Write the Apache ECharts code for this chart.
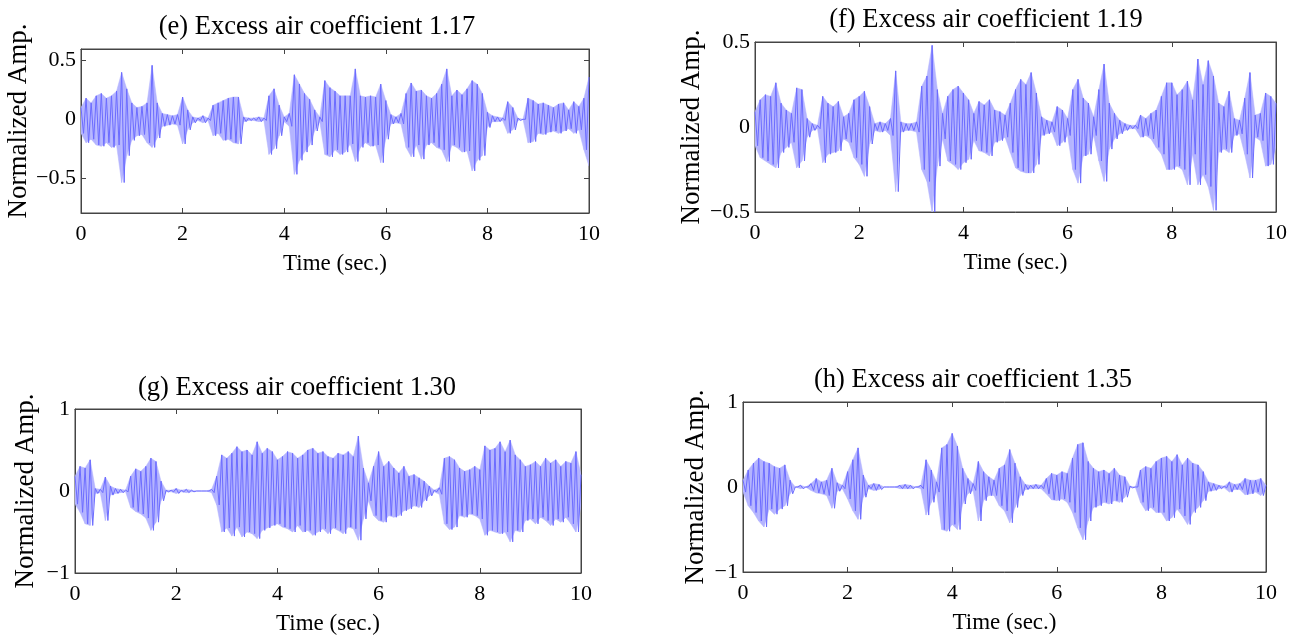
<!DOCTYPE html>
<html>
<head>
<meta charset="utf-8">
<title>Excess air coefficient waveforms</title>
<script src="https://cdn.jsdelivr.net/npm/echarts@6/dist/echarts.min.js"></script>
<style>
  html, body { margin: 0; padding: 0; background: #fff; }
  #chart { width: 1304px; height: 641px; }
</style>
</head>
<body>
<div id="chart"></div>
<script>
// sampled envelope of each recording: upper/lower peak every 0.1 s, 0..10 s
var sampleStep = 0.1;

var upperE = [0.10,0.18,0.14,0.20,0.22,0.18,0.20,0.24,0.40,0.26, 0.14,0.10,0.11,0.14,0.46,0.14,0.05,0.04,0.03,0.04,
  0.19,0.08,0.02,0.01,0.03,0.01,0.12,0.14,0.16,0.18, 0.19,0.19,0.02,0.01,0.01,0.02,0.01,0.20,0.26,0.12,
  0.02,0.05,0.38,0.30,0.22,0.17,0.08,0.02,0.33,0.27, 0.24,0.20,0.20,0.20,0.43,0.20,0.19,0.20,0.19,0.30,
  0.16,0.04,0.02,0.05,0.22,0.31,0.24,0.25,0.20,0.18, 0.22,0.30,0.43,0.20,0.25,0.21,0.26,0.33,0.30,0.22,
  0.06,0.03,0.02,0.01,0.15,0.10,0.01,0.00,0.18,0.16, 0.13,0.14,0.12,0.10,0.13,0.14,0.08,0.15,0.11,0.18,
  0.36];
var lowerE = [-0.12,-0.20,-0.17,-0.22,-0.23,-0.20,-0.24,-0.22,-0.54,-0.31, -0.18,-0.14,-0.13,-0.20,-0.24,-0.16,-0.06,-0.05,-0.04,-0.05,
  -0.21,-0.09,-0.03,-0.01,-0.03,-0.01,-0.14,-0.12,-0.18,-0.17, -0.20,-0.21,-0.02,-0.01,-0.01,-0.02,-0.01,-0.30,-0.25,-0.14,
  -0.02,-0.06,-0.47,-0.35,-0.28,-0.22,-0.10,-0.02,-0.30,-0.32, -0.26,-0.30,-0.28,-0.21,-0.36,-0.24,-0.20,-0.23,-0.22,-0.37,
  -0.17,-0.04,-0.03,-0.04,-0.24,-0.32,-0.22,-0.34,-0.22,-0.20, -0.24,-0.26,-0.36,-0.22,-0.24,-0.28,-0.27,-0.44,-0.35,-0.31,
  -0.07,-0.02,-0.02,-0.01,-0.12,-0.09,-0.01,0.00,-0.20,-0.19, -0.12,-0.13,-0.11,-0.10,-0.12,-0.10,-0.08,-0.12,-0.09,-0.26,
  -0.40];

var upperF = [0.09,0.16,0.19,0.18,0.26,0.14,0.10,0.08,0.23,0.22, 0.05,0.02,0.01,0.18,0.14,0.12,0.15,0.06,0.08,0.16,
  0.18,0.21,0.12,0.02,0.03,0.02,0.05,0.33,0.03,0.02, 0.02,0.03,0.24,0.30,0.48,0.22,0.08,0.18,0.22,0.24,
  0.20,0.16,0.08,0.15,0.13,0.16,0.10,0.09,0.07,0.14, 0.22,0.28,0.25,0.32,0.20,0.06,0.04,0.03,0.12,0.10,
  0.05,0.22,0.28,0.17,0.14,0.06,0.22,0.37,0.14,0.08, 0.04,0.02,0.01,0.01,0.07,0.05,0.08,0.10,0.18,0.26,
  0.26,0.19,0.22,0.27,0.16,0.40,0.25,0.39,0.30,0.14, 0.12,0.21,0.05,0.04,0.17,0.32,0.07,0.08,0.20,0.18,
  0.14];
var lowerF = [-0.11,-0.18,-0.20,-0.22,-0.24,-0.15,-0.12,-0.09,-0.24,-0.20, -0.06,-0.02,-0.01,-0.21,-0.16,-0.15,-0.14,-0.07,-0.09,-0.18,
  -0.22,-0.29,-0.10,-0.02,-0.03,-0.02,-0.05,-0.38,-0.03,-0.02, -0.02,-0.03,-0.25,-0.32,-0.50,-0.23,-0.07,-0.20,-0.22,-0.25,
  -0.21,-0.19,-0.08,-0.14,-0.15,-0.17,-0.09,-0.08,-0.06,-0.15, -0.24,-0.26,-0.27,-0.27,-0.22,-0.05,-0.04,-0.03,-0.11,-0.09,
  -0.05,-0.25,-0.33,-0.17,-0.16,-0.05,-0.20,-0.32,-0.13,-0.07, -0.04,-0.02,-0.01,-0.01,-0.06,-0.05,-0.07,-0.12,-0.16,-0.25,
  -0.25,-0.23,-0.25,-0.34,-0.16,-0.34,-0.28,-0.35,-0.49,-0.15, -0.13,-0.15,-0.05,-0.04,-0.16,-0.30,-0.06,-0.08,-0.23,-0.22,
  -0.12];

var upperG = [0.18,0.30,0.28,0.38,0.03,0.02,0.17,0.06,0.03,0.02, 0.01,0.18,0.27,0.24,0.30,0.40,0.36,0.12,0.01,0.01,
  0.03,0.01,0.02,0.01,0.00,0.00,0.00,0.02,0.18,0.44, 0.40,0.46,0.54,0.48,0.50,0.44,0.60,0.46,0.52,0.48,
  0.38,0.42,0.48,0.46,0.40,0.44,0.50,0.52,0.46,0.48, 0.42,0.40,0.46,0.44,0.48,0.42,0.67,0.28,0.10,0.30,
  0.48,0.30,0.36,0.28,0.22,0.30,0.18,0.20,0.16,0.12, 0.06,0.01,0.04,0.40,0.42,0.38,0.28,0.24,0.26,0.30,
  0.26,0.55,0.50,0.52,0.60,0.48,0.62,0.44,0.38,0.30, 0.32,0.36,0.30,0.40,0.34,0.38,0.30,0.36,0.34,0.48,
  0.20];
var lowerG = [-0.16,-0.26,-0.40,-0.42,-0.03,-0.02,-0.36,-0.05,-0.03,-0.02, -0.01,-0.20,-0.25,-0.28,-0.33,-0.48,-0.38,-0.12,-0.01,-0.01,
  -0.03,-0.01,-0.02,-0.01,0.00,0.00,0.00,-0.02,-0.17,-0.50, -0.45,-0.55,-0.44,-0.56,-0.50,-0.52,-0.58,-0.48,-0.45,-0.42,
  -0.40,-0.44,-0.46,-0.50,-0.42,-0.50,-0.48,-0.54,-0.50,-0.46, -0.52,-0.45,-0.48,-0.52,-0.44,-0.46,-0.60,-0.34,-0.12,-0.30,
  -0.36,-0.38,-0.30,-0.32,-0.30,-0.24,-0.22,-0.18,-0.20,-0.12, -0.06,-0.01,-0.04,-0.40,-0.47,-0.44,-0.30,-0.32,-0.28,-0.30,
  -0.34,-0.54,-0.48,-0.50,-0.52,-0.50,-0.62,-0.48,-0.50,-0.36, -0.34,-0.40,-0.32,-0.36,-0.42,-0.34,-0.38,-0.32,-0.40,-0.50,
  -0.18];

var upperH = [0.08,0.20,0.28,0.34,0.30,0.28,0.24,0.22,0.26,0.08, 0.00,0.02,0.00,0.04,0.10,0.06,0.08,0.22,0.05,0.02,
  0.18,0.32,0.46,0.14,0.02,0.04,0.03,0.00,0.00,0.00, 0.02,0.03,0.02,0.00,0.02,0.32,0.20,0.06,0.46,0.50,
  0.63,0.48,0.22,0.10,0.04,0.30,0.18,0.12,0.08,0.22, 0.26,0.44,0.28,0.12,0.03,0.02,0.03,0.02,0.10,0.16,
  0.14,0.18,0.16,0.34,0.50,0.52,0.30,0.22,0.18,0.20, 0.16,0.22,0.14,0.12,0.01,0.00,0.20,0.24,0.22,0.30,
  0.34,0.36,0.30,0.38,0.26,0.34,0.28,0.26,0.18,0.06, 0.04,0.02,0.01,0.06,0.03,0.04,0.10,0.08,0.08,0.10,
  0.02];
var lowerH = [-0.06,-0.22,-0.30,-0.40,-0.47,-0.26,-0.32,-0.26,-0.22,-0.08, 0.00,-0.02,0.00,-0.04,-0.07,-0.08,-0.10,-0.25,-0.05,-0.02,
  -0.14,-0.28,-0.38,-0.12,-0.02,-0.04,-0.03,0.00,0.00,0.00, -0.02,-0.02,-0.02,0.00,-0.02,-0.33,-0.18,-0.06,-0.50,-0.52,
  -0.44,-0.50,-0.20,-0.08,-0.04,-0.40,-0.16,-0.10,-0.10,-0.22, -0.28,-0.42,-0.24,-0.10,-0.03,-0.02,-0.02,-0.02,-0.08,-0.15,
  -0.16,-0.14,-0.18,-0.30,-0.48,-0.62,-0.40,-0.24,-0.22,-0.18, -0.20,-0.16,-0.18,-0.12,-0.01,0.00,-0.18,-0.28,-0.24,-0.30,
  -0.30,-0.40,-0.36,-0.26,-0.34,-0.44,-0.30,-0.24,-0.16,-0.05, -0.04,-0.02,-0.01,-0.06,-0.03,-0.03,-0.09,-0.08,-0.06,-0.10,
  -0.02];

var xTicks = [0, 2, 4, 6, 8, 10];
var yTicksSmall = [-0.5, 0, 0.5];
var yTicksUnit = [-1, 0, 1];

var panels = [
  { title: '(e) Excess air coefficient 1.17', upper: upperE, lower: lowerE, yMin: -0.8, yMax: 0.6, yTicks: yTicksSmall,
    grid: { left: 81, top: 49, width: 508, height: 164 }, titleAt: [312, 9], yNameGap: 44, yNamePad: [0, 0, 0, 20] },
  { title: '(f) Excess air coefficient 1.19', upper: upperF, lower: lowerF, yMin: -0.5, yMax: 0.5, yTicks: yTicksSmall,
    grid: { left: 755, top: 42, width: 521, height: 170 }, titleAt: [981, 2], yNameGap: 50, yNamePad: 0 },
  { title: '(g) Excess air coefficient 1.30', upper: upperG, lower: lowerG, yMin: -1, yMax: 1, yTicks: yTicksUnit,
    grid: { left: 75, top: 409, width: 506, height: 164 }, titleAt: [292, 370], yNameGap: 36, yNamePad: 0 },
  { title: '(h) Excess air coefficient 1.35', upper: upperH, lower: lowerH, yMin: -1, yMax: 1, yTicks: yTicksUnit,
    grid: { left: 743, top: 402, width: 523, height: 170 }, titleAt: [968, 362], yNameGap: 34, yNamePad: 0 }
];

var FONT = 'Liberation Serif';
var WAVE = '#6c6cff';
var BAND = '#b4b4ff';
var minusSign = function (v) { return String(v).replace('-', '\u2212'); };

// each 0.1 s sample becomes one up stroke and one down stroke
function waveform(upper, lower) {
  var pts = [];
  for (var i = 0; i < upper.length; i++) {
    var t = i * sampleStep;
    pts.push([t, upper[i]]);
    if (i < upper.length - 1) pts.push([t + sampleStep / 2, lower[i]]);
  }
  return pts;
}

// light band between the envelopes, one quad per sample interval
function bandItem(upper, lower) {
  return function (params, api) {
    var k = params.dataIndex;
    if (k >= upper.length - 1) return null;
    var t0 = k * sampleStep, t1 = (k + 1) * sampleStep;
    return {
      type: 'polygon',
      shape: { points: [api.coord([t0, upper[k]]), api.coord([t1, upper[k + 1]]),
                        api.coord([t1, lower[k + 1]]), api.coord([t0, lower[k]])] },
      style: { fill: BAND, stroke: BAND, lineWidth: 0.5 }
    };
  };
}

var option = {
  animation: false,
  backgroundColor: '#fff',
  title: [], grid: [], xAxis: [], yAxis: [], series: []
};

panels.forEach(function (p, i) {
  option.title.push({
    text: p.title, left: p.titleAt[0], top: p.titleAt[1], textAlign: 'center',
    textStyle: { fontFamily: FONT, fontSize: 26.5, fontWeight: 'normal', color: '#000' }
  });
  option.grid.push({
    left: p.grid.left, top: p.grid.top, width: p.grid.width, height: p.grid.height,
    show: true, borderColor: '#444', borderWidth: 1, backgroundColor: '#fff'
  });

  var tickLine = { show: true, inside: true, length: 5, lineStyle: { color: '#444' } };

  // bottom and top time axes
  option.xAxis.push({
    type: 'value', gridIndex: i, min: 0, max: 10, interval: 2,
    axisLine: { show: true, onZero: false, lineStyle: { color: '#444' } },
    axisTick: tickLine, splitLine: { show: false },
    axisLabel: { fontFamily: FONT, fontSize: 22, color: '#000', margin: 10,
      customValues: xTicks },
    name: 'Time (sec.)', nameLocation: 'middle', nameGap: 39,
    nameTextStyle: { fontFamily: FONT, fontSize: 23, color: '#000' }
  });
  option.xAxis.push({
    type: 'value', gridIndex: i, position: 'top', min: 0, max: 10, interval: 2,
    axisLine: { show: true, onZero: false, lineStyle: { color: '#444' } },
    axisTick: tickLine, axisLabel: { show: false }, splitLine: { show: false }
  });

  // left and right amplitude axes
  option.yAxis.push({
    type: 'value', gridIndex: i, min: p.yMin, max: p.yMax,
    axisLine: { show: true, onZero: false, lineStyle: { color: '#444' } },
    axisTick: Object.assign({ customValues: p.yTicks }, tickLine),
    splitLine: { show: false },
    axisLabel: { fontFamily: FONT, fontSize: 22, color: '#000', margin: 5,
      customValues: p.yTicks, formatter: minusSign },
    name: 'Normalized Amp.', nameLocation: 'middle', nameRotate: 90, nameGap: p.yNameGap,
    nameTextStyle: { fontFamily: FONT, fontSize: 27, color: '#000', padding: p.yNamePad }
  });
  option.yAxis.push({
    type: 'value', gridIndex: i, position: 'right', min: p.yMin, max: p.yMax,
    axisLine: { show: true, onZero: false, lineStyle: { color: '#444' } },
    axisTick: Object.assign({ customValues: p.yTicks }, tickLine),
    axisLabel: { show: false }, splitLine: { show: false }
  });

  option.series.push({
    type: 'custom', xAxisIndex: 2 * i, yAxisIndex: 2 * i, silent: true, clip: true,
    data: p.upper.map(function (v, k) { return [k * sampleStep, p.lower[k], v]; }),
    encode: { x: 0, y: [1, 2] },
    renderItem: bandItem(p.upper, p.lower)
  });

  // the waveform strokes on top
  option.series.push({
    type: 'line', xAxisIndex: 2 * i, yAxisIndex: 2 * i,
    data: waveform(p.upper, p.lower),
    showSymbol: false, silent: true, clip: true,
    lineStyle: { color: WAVE, width: 1 }
  });
});

var chart = echarts.init(document.getElementById('chart'), null, { renderer: 'canvas' });
chart.setOption(option);
</script>
</body>
</html>
